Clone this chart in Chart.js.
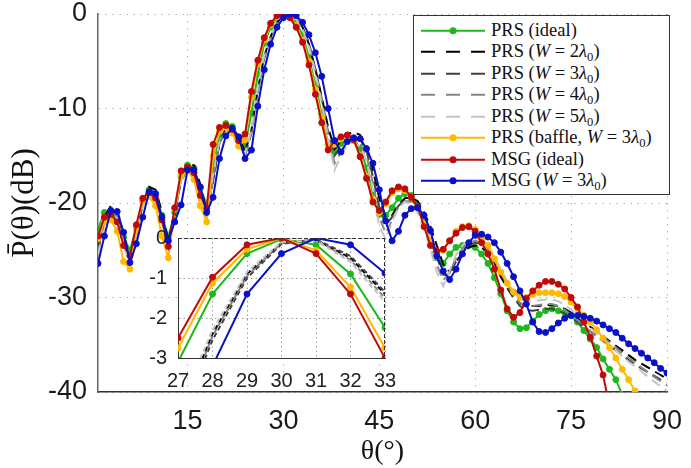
<!DOCTYPE html>
<html><head><meta charset="utf-8">
<script src="https://cdn.jsdelivr.net/npm/chart.js@4.4.1/dist/chart.umd.min.js"></script>
<style>
html,body{margin:0;padding:0;background:#fff;}
#wrap{position:relative;width:691px;height:468px;overflow:hidden;}
#main{position:absolute;left:0;top:0;}
#inset{position:absolute;left:130px;top:228px;}
#legend{position:absolute;left:413px;top:15px;width:255px;height:178px;border:1px solid #333;background:#fff;
 font-family:'Liberation Serif','Times New Roman',serif;font-size:18.5px;color:#111;}
#legend .row{position:absolute;left:0;height:21.5px;width:255px;}
#legend svg{position:absolute;left:0;top:0;}
#legend .txt{position:absolute;left:77px;top:0;line-height:21.5px;white-space:nowrap;}
#legend sub{font-size:0.68em;vertical-align:-0.3em;line-height:0;}
</style></head>
<body>
<div id="wrap">
<canvas id="main" width="691" height="468"></canvas>
<canvas id="inset" width="270" height="170"></canvas>
<div id="legend"></div>
</div>
<script>
// ---------------- data ----------------
const theta = [1,2,3,4,5,6,7,8,9,10,11,12,13,14,15,16,17,18,19,20,21,22,23,24,25,26,27,28,29,30,
31,32,33,34,35,36,37,38,39,40,41,42,43,44,45,46,47,48,49,50,51,52,53,54,55,56,57,58,59,60,
61,62,63,64,65,66,67,68,69,70,71,72,73,74,75,76,77,78,79,80,81,82,83,84,85,86,87,88,89,90];

const prsIdeal = [-22.8,-21.0,-20.8,-21.6,-23.6,-25.0,-22.6,-19.8,-18.6,-19.1,-21.3,-23.6,-21.0,-17.2,-16.0,-16.3,-18.4,-20.2,-16.3,-12.8,
-11.6,-11.9,-13.4,-13.9,-10.5,-6.4,-3.1,-1.4,-0.39,-0.03,-0.17,-0.9,-2.24,-4.6,-7.5,-10.6,-13.8,-14.6,-13.7,-13.2,
-13.2,-14.2,-16.3,-19.0,-21.2,-21.3,-20.5,-19.5,-19.0,-19.2,-20.2,-22.0,-24.0,-25.8,-26.4,-25.4,-24.7,-24.5,-24.5,-24.7,
-25.4,-26.4,-27.9,-29.6,-31.4,-32.6,-33.3,-33.2,-32.5,-31.8,-31.4,-31.2,-31.4,-31.6,-31.9,-32.6,-33.5,-34.4,-35.3,-36.5,
-37.6,-38.7,-40.3];

const prsW2 = [-24.5,-21.5,-20.3,-20.8,-23.3,-26.0,-23.5,-20.0,-18.3,-18.6,-20.9,-24.0,-21.2,-17.4,-15.9,-16.0,-18.0,-21.0,-17.6,-13.6,
-12.1,-12.0,-13.0,-14.6,-12.3,-8.0,-4.5,-2.4,-0.9,-0.12,-0.05,-0.5,-1.4,-3.2,-5.8,-8.8,-12.0,-14.3,-13.4,-12.7,
-12.5,-12.8,-14.0,-16.5,-19.5,-21.5,-21.3,-20.2,-19.5,-19.4,-19.8,-21.0,-22.5,-24.5,-26.5,-27.3,-26.2,-25.3,-24.7,-24.5,
-24.7,-25.3,-26.3,-27.8,-29.0,-30.0,-30.6,-30.9,-30.9,-30.9,-30.8,-30.8,-30.9,-31.2,-31.6,-32.1,-32.6,-33.1,-33.6,-34.1,
-34.6,-35.1,-35.6,-36.1,-36.6,-37.0,-37.4,-37.8,-38.2,-38.6];

const prsW3 = [-25.0,-22.0,-20.6,-21.0,-23.6,-26.3,-23.6,-20.2,-18.6,-18.9,-21.3,-24.3,-21.2,-17.6,-16.2,-16.3,-18.4,-21.3,-17.6,-13.7,
-12.3,-12.3,-13.4,-15.0,-12.6,-8.2,-4.7,-2.55,-1.0,-0.15,-0.03,-0.45,-1.35,-3.1,-5.8,-9.0,-12.5,-15.0,-14.0,-13.2,
-13.0,-13.2,-14.5,-17.2,-20.5,-22.3,-21.5,-20.3,-19.7,-19.7,-20.3,-21.7,-23.5,-25.7,-27.6,-27.6,-26.2,-25.2,-24.5,-24.2,
-24.3,-24.9,-26.0,-27.4,-28.8,-30.0,-30.9,-31.3,-31.4,-31.3,-31.2,-31.2,-31.4,-31.7,-32.1,-32.6,-33.1,-33.6,-34.1,-34.6,
-35.1,-35.6,-36.1,-36.6,-37.1,-37.5,-37.9,-38.3,-38.7,-39.0];

const prsW4 = [-25.3,-22.3,-20.9,-21.3,-24.0,-26.5,-23.4,-20.3,-18.8,-19.2,-21.7,-24.6,-21.0,-17.6,-16.4,-16.6,-18.9,-21.6,-17.3,-13.6,
-12.4,-12.5,-13.8,-15.0,-12.5,-8.1,-4.6,-2.45,-0.95,-0.12,-0.05,-0.55,-1.5,-3.3,-6.0,-9.2,-12.8,-15.8,-14.6,-13.6,
-13.3,-13.6,-15.0,-17.9,-21.5,-23.2,-21.8,-20.4,-19.8,-19.9,-20.6,-22.2,-24.2,-26.5,-28.2,-27.4,-25.8,-24.8,-24.2,-24.0,
-24.2,-24.9,-26.0,-27.3,-28.6,-29.8,-30.6,-30.9,-30.9,-30.8,-30.7,-30.7,-30.9,-31.3,-31.8,-32.4,-33.0,-33.6,-34.0,-34.2,
-34.75,-35.3,-35.85,-36.4,-36.9,-37.4,-37.9,-38.4,-38.85,-39.3];

const prsW5 = [-25.5,-22.6,-21.2,-21.6,-24.4,-26.8,-23.2,-20.4,-19.0,-19.5,-22.1,-25.0,-20.8,-17.6,-16.6,-16.9,-19.4,-21.9,-17.0,-13.5,
-12.5,-12.7,-14.1,-14.8,-12.2,-7.8,-4.3,-2.3,-0.85,-0.1,-0.07,-0.6,-1.6,-3.5,-6.3,-9.5,-13.2,-16.5,-15.0,-13.9,
-13.6,-14.0,-15.5,-18.6,-22.5,-23.8,-22.0,-20.5,-19.9,-20.1,-21.0,-22.7,-24.9,-27.3,-28.8,-27.2,-25.5,-24.5,-23.9,-23.7,
-23.9,-24.6,-25.7,-27.0,-28.3,-29.4,-30.1,-30.4,-30.4,-30.3,-30.2,-30.2,-30.4,-30.8,-31.3,-31.9,-32.5,-33.2,-33.8,-34.4,
-35.0,-35.6,-36.2,-36.8,-37.3,-37.8,-38.4,-38.9,-39.4,-39.9];

const prsBaffle = [-23.8,-22.0,-21.8,-23.0,-26.2,-27.0,-22.8,-19.8,-19.3,-20.3,-23.5,-25.8,-20.6,-17.0,-16.6,-17.5,-20.3,-22.0,-15.0,-12.4,
-12.0,-12.6,-14.0,-13.3,-8.8,-5.3,-2.75,-1.13,-0.28,0.0,-0.31,-1.23,-2.75,-5.0,-8.0,-11.0,-14.0,-13.8,-13.2,-13.0,
-13.4,-15.0,-17.2,-19.6,-21.0,-20.1,-18.9,-18.5,-18.7,-19.4,-20.4,-22.2,-24.0,-25.3,-25.0,-24.0,-23.0,-22.5,-22.4,-22.8,
-23.8,-24.5,-25.9,-27.3,-28.5,-29.4,-30.0,-30.0,-29.7,-29.5,-29.5,-29.5,-29.6,-29.9,-30.5,-31.2,-31.9,-32.6,-33.4,-34.3,
-35.3,-36.4,-37.6,-38.7,-39.9,-42.0];

const msgIdeal = [-23.5,-21.5,-21.2,-22.0,-24.5,-25.6,-22.3,-19.5,-18.9,-19.5,-21.8,-24.6,-20.5,-16.6,-16.2,-16.8,-19.2,-20.6,-13.8,-12.0,
-11.8,-12.2,-13.4,-12.7,-8.2,-4.9,-2.5,-0.98,-0.17,0.0,-0.39,-1.4,-3.0,-5.4,-8.5,-11.5,-14.4,-13.4,-13.0,-12.8,
-13.3,-15.1,-17.4,-19.9,-20.8,-19.9,-18.7,-18.3,-18.5,-19.4,-20.4,-22.5,-24.5,-25.1,-24.9,-24.0,-23.2,-22.6,-22.5,-23.0,
-24.2,-25.4,-27.0,-29.2,-31.2,-32.1,-31.6,-30.1,-29.3,-28.7,-28.3,-28.3,-28.6,-29.1,-30.0,-31.0,-32.6,-34.2,-36.2,-38.2,
-41.5];

const msgW3 = [-26.4,-23.5,-20.8,-20.9,-23.1,-26.3,-24.3,-21.5,-18.8,-19.0,-21.5,-24.0,-22.0,-20.2,-16.5,-16.5,-18.3,-21.0,-19.4,-15.3,
-12.9,-12.1,-13.0,-15.3,-14.4,-9.75,-5.9,-3.2,-1.4,-0.39,0.0,-0.17,-0.88,-2.2,-4.1,-6.6,-10.0,-13.4,-14.6,-13.5,
-13.1,-13.2,-14.25,-15.8,-18.6,-21.9,-24.0,-23.0,-21.3,-20.6,-20.5,-21.3,-22.9,-25.6,-27.2,-28.1,-27.0,-25.4,-24.2,-23.4,
-23.3,-23.6,-24.2,-25.2,-26.4,-27.8,-29.3,-30.7,-32.6,-33.6,-33.7,-33.3,-32.7,-32.2,-31.9,-31.9,-32.0,-32.2,-32.5,-32.9,
-33.3,-33.7,-34.3,-34.9,-35.4,-35.9,-36.4,-36.9,-37.5,-38.0];

const seriesNames = ['PRS (ideal)','PRS (W = 2λ₀)','PRS (W = 3λ₀)','PRS (W = 4λ₀)','PRS (W = 5λ₀)',
  'PRS (baffle, W = 3λ₀)','MSG (ideal)','MSG (W = 3λ₀)'];
const xTicks = [15,30,45,60,75,90];
const yTicks = [0,-10,-20,-30,-40];
const insetXTicks = [27,28,29,30,31,32,33];
const insetYTicks = [0,-1,-2,-3];

// ---------------- styles ----------------
const seriesValues = [prsIdeal, prsW2, prsW3, prsW4, prsW5, prsBaffle, msgIdeal, msgW3];
const styles = [
  {color:'#1cb81c', dash:null, marker:true},
  {color:'#000000', dash:[10,6], marker:false},
  {color:'#404040', dash:[10,6], marker:false},
  {color:'#858585', dash:[10,6], marker:false},
  {color:'#c4c4c4', dash:[10,6], marker:false},
  {color:'#ffb900', dash:null, marker:true},
  {color:'#c00a0a', dash:null, marker:true},
  {color:'#0a10c8', dash:null, marker:true}
];

function toXY(vals, lo, hi){
  const out=[];
  vals.forEach((v,i)=>{const t=theta[i]; if(t>=lo && t<=hi) out.push({x:t,y:v});});
  return out;
}
function makeDatasets(lo, hi, dash){
  return seriesValues.map((vals,k)=>{
    const s=styles[k];
    return {
      label: seriesNames[k],
      data: toXY(vals, lo, hi),
      borderColor: s.color,
      backgroundColor: s.color,
      borderWidth: 2,
      borderDash: s.dash ? dash : [],
      pointRadius: s.marker ? 3 : 0,
      pointBorderWidth: 1,
      pointBackgroundColor: s.color,
      pointBorderColor: s.color,
      tension: 0,
      order: seriesValues.length - k
    };
  });
}

const tickFont = {family:"'Liberation Sans', Arial, sans-serif", size:27};
const serif = "'Liberation Serif','Times New Roman',serif";

new Chart(document.getElementById('main'), {
  type:'line',
  data:{datasets: makeDatasets(1, 90, [10,6])},
  options:{
    responsive:false, animation:false, devicePixelRatio:1,
    layout:{padding:{top:14,right:24,left:0,bottom:0}},
    plugins:{legend:{display:false}, tooltip:{enabled:false}},
    scales:{
      x:{type:'linear', min:1, max:90,
        afterBuildTicks:s=>{s.ticks = xTicks.map(v=>({value:v}));},
        afterFit:s=>{s.height=76; s.paddingLeft=0; s.paddingRight=0;},
        grid:{color:'#b4b4b4', lineWidth:1, drawTicks:false},
        border:{display:true, color:'#333', width:1.5, dash:[1.5,5.5]},
        ticks:{font:tickFont, color:'#1a1a1a', padding:13, maxRotation:0, autoSkip:false},
        title:{display:true, text:'θ(°)', font:{family:serif, size:28, lineHeight:1.1}, color:'#111', padding:{top:0,bottom:1}}
      },
      y:{type:'linear', min:-40, max:0,
        afterBuildTicks:s=>{s.ticks = yTicks.map(v=>({value:v}));},
        afterFit:s=>{s.width=98; s.paddingTop=0; s.paddingBottom=0;},
        grid:{color:'#b4b4b4', lineWidth:1, drawTicks:false},
        border:{display:true, color:'#666', width:1.5, dash:[1.5,5.5]},
        ticks:{font:tickFont, color:'#1a1a1a', padding:11, autoSkip:false},
        title:{display:true, text:'P̄(θ)(dB)', font:{family:serif, size:31, lineHeight:1.1}, color:'#111', padding:{top:8,bottom:0}}
      }
    }
  }
});

const insetBg = {
  id:'insetBg',
  beforeDraw(chart){
    const {ctx, chartArea:a} = chart;
    ctx.save(); ctx.fillStyle='#fff'; ctx.fillRect(a.left,a.top,a.right-a.left,a.bottom-a.top); ctx.restore();
  },
  afterDraw(chart){
    const {ctx, chartArea:a} = chart;
    ctx.save(); ctx.strokeStyle='#333'; ctx.lineWidth=1; ctx.setLineDash([4,2]);
    ctx.beginPath(); ctx.moveTo(a.left,a.top+0.5); ctx.lineTo(a.right,a.top+0.5);
    ctx.moveTo(a.right-0.5,a.top); ctx.lineTo(a.right-0.5,a.bottom); ctx.stroke(); ctx.restore();
  }
};
const insetFont = {family:"'Liberation Sans', Arial, sans-serif", size:20};
new Chart(document.getElementById('inset'), {
  type:'line',
  data:{datasets: makeDatasets(26, 34, [5,3])},
  options:{
    responsive:false, animation:false, devicePixelRatio:1,
    layout:{padding:{top:10,right:15,left:0,bottom:0}},
    plugins:{legend:{display:false}, tooltip:{enabled:false}},
    scales:{
      x:{type:'linear', min:27, max:33,
        afterBuildTicks:s=>{s.ticks = insetXTicks.map(v=>({value:v}));},
        afterFit:s=>{s.height=40; s.paddingLeft=0; s.paddingRight=0;},
        grid:{color:'#9a9a9a', lineWidth:1, drawTicks:false},
        border:{display:true, color:'#333', width:1, dash:[1.5,3]},
        ticks:{font:insetFont, color:'#222', padding:11, maxRotation:0, autoSkip:false}
      },
      y:{type:'linear', min:-3, max:0,
        afterBuildTicks:s=>{s.ticks = insetYTicks.map(v=>({value:v}));},
        afterFit:s=>{s.width=48; s.paddingTop=0; s.paddingBottom=0;},
        grid:{color:'#9a9a9a', lineWidth:1, drawTicks:false},
        border:{display:true, color:'#333', width:1, dash:[1.5,3]},
        ticks:{font:insetFont, color:'#222', padding:11, autoSkip:false}
      }
    }
  },
  plugins:[insetBg]
});

// ---------------- legend (HTML) ----------------
const leg = document.getElementById('legend');
seriesNames.forEach((name,k)=>{
  const s = styles[k];
  const row = document.createElement('div');
  row.className='row';
  row.style.top = (3.5 + 21.5*k) + 'px';
  const dash = s.dash ? ' stroke-dasharray="14,11"' : '';
  const mk = s.marker ? `<circle cx="39" cy="10.75" r="3.5" fill="${s.color}"/>` : '';
  row.innerHTML = `<svg width="76" height="21.5"><line x1="7" y1="10.75" x2="71" y2="10.75" stroke="${s.color}" stroke-width="2.2"${dash}/>${mk}</svg>`+
    `<span class="txt">${name.replace(/W/g,'<i>W</i>').replace(/λ₀/g,'<i>λ</i><sub>0</sub>')}</span>`;
  leg.appendChild(row);
});
</script>
</body></html>
